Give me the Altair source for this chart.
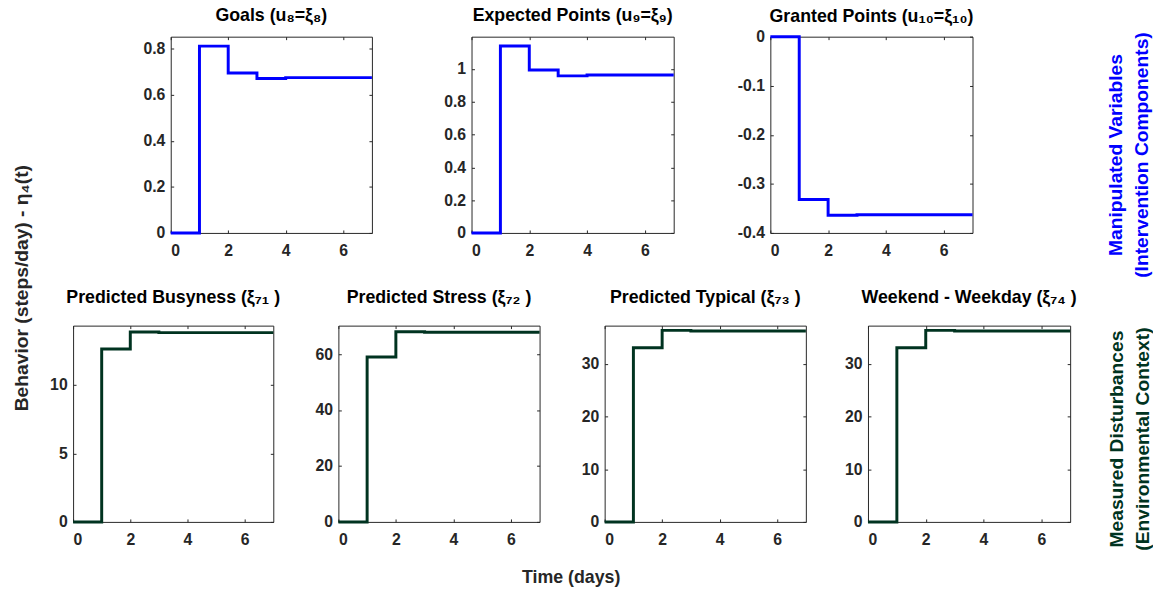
import altair as alt
import pandas as pd

FONT = "Liberation Sans, Arial, Helvetica, sans-serif"
BLUE = "#0000ff"
GREEN = "#003320"
AX = "#262626"

days = [0, 1, 2, 3, 4, 5, 6, 7]
x_ticks = [0, 2, 4, 6]

goals = [0, 0.812, 0.695, 0.671, 0.675, 0.675, 0.675, 0.675]
expected = [0, 1.140, 0.994, 0.958, 0.963, 0.963, 0.963, 0.963]
granted = [0, -0.332, -0.364, -0.363, -0.363, -0.363, -0.363, -0.363]
busyness = [0, 12.63, 13.88, 13.83, 13.83, 13.83, 13.83, 13.83]
stress = [0, 59.0, 68.0, 67.8, 67.8, 67.8, 67.8, 67.8]
typical = [0, 33.1, 36.4, 36.3, 36.3, 36.3, 36.3, 36.3]
weekend = [0, 33.1, 36.4, 36.3, 36.3, 36.3, 36.3, 36.3]

top_titles = ["Goals (u₈=ξ₈)", "Expected Points (u₉=ξ₉)", "Granted Points (u₁₀=ξ₁₀)"]
bottom_titles = ["Predicted Busyness (ξ₇₁ )", "Predicted Stress (ξ₇₂ )",
                 "Predicted Typical (ξ₇₃ )", "Weekend - Weekday (ξ₇₄ )"]

goals_ticks = [0, 0.2, 0.4, 0.6, 0.8]
expected_ticks = [0, 0.2, 0.4, 0.6, 0.8, 1]
granted_ticks = [-0.4, -0.3, -0.2, -0.1, 0]
busyness_ticks = [0, 5, 10]
stress_ticks = [0, 20, 40, 60]
typical_ticks = [0, 10, 20, 30]
weekend_ticks = [0, 10, 20, 30]

TICK = 3
H = 199
NOSTROKE = alt.ViewConfig(stroke="transparent")


def panel(values, title, ydom, yticks, color, width, toff):
    df = pd.DataFrame({"t": days, "v": values})
    xs = alt.Scale(domain=[0, 7], nice=False, zero=False)
    ys = alt.Scale(domain=ydom, nice=False, zero=False)
    lab = "toString(datum.value)"
    main = alt.Chart(df).mark_line(interpolate="step-after", color=color, strokeWidth=3).encode(
        x=alt.X("t:Q", scale=xs, axis=alt.Axis(orient="bottom", values=x_ticks, offset=-TICK,
                                              tickSize=TICK, domain=False, grid=False, title=None,
                                              labelPadding=10, labelExpr=lab)),
        y=alt.Y("v:Q", scale=ys, axis=alt.Axis(orient="left", values=yticks, offset=-TICK,
                                              tickSize=TICK, domain=False, grid=False, title=None,
                                              labelPadding=6, labelExpr=lab)),
    )
    mirror = alt.Chart(df).mark_line(opacity=0).encode(
        x=alt.X("t:Q", scale=xs, axis=alt.Axis(orient="top", values=x_ticks, offset=-TICK,
                                              tickSize=TICK, domain=False, grid=False, title=None,
                                              labels=False)),
        y=alt.Y("v:Q", scale=ys, axis=alt.Axis(orient="right", values=yticks, offset=-TICK,
                                              tickSize=TICK, domain=False, grid=False, title=None,
                                              labels=False)),
    )
    return alt.layer(main, mirror).properties(
        width=width, height=H,
        title=alt.TitleParams(text=title, font=FONT, fontSize=18, fontWeight="bold",
                              color="black", offset=toff, anchor="middle"))


def label(lines, color, x, y, size=19.5, angle=270):
    return alt.Chart(pd.DataFrame({"k": [0]})).mark_text(
        text=lines, angle=angle, font=FONT, fontSize=size, fontWeight="bold", color=color,
        lineHeight=26, align="center", baseline="middle",
    ).encode(x=alt.value(x), y=alt.value(y))


def spacer(width, texts=None):
    if texts:
        return alt.layer(*texts).properties(width=width, height=H, view=NOSTROKE)
    return alt.Chart(pd.DataFrame({"k": [0]})).mark_point(opacity=0).properties(
        width=width, height=H, view=NOSTROKE)


# annotation labels (positions relative to the spacer views that hold them)
left_label = label(["Behavior (steps/day) - η₄(t)"], AX, -52, 255)
blue_label = label(["Manipulated Variables", "(Intervention Components)"], BLUE, 146, 120)
green_label = label(["Measured Disturbances", "(Environmental Context)"], GREEN, 147, 408)
time_label = label(["Time (days)"], AX, 302, 256, size=18, angle=0)

top = alt.hconcat(
    spacer(99, [left_label]),
    panel(goals, top_titles[0], [0, 0.853], goals_ticks, BLUE, 204, 11),
    spacer(101),
    panel(expected, top_titles[1], [0, 1.197], expected_ticks, BLUE, 205, 11),
    spacer(98),
    panel(granted, top_titles[2], [-0.4, 0], granted_ticks, BLUE, 205, 3),
    spacer(1, [blue_label, green_label]),
    spacing=0, bounds="flush",
)

bottom = alt.hconcat(
    panel(busyness, bottom_titles[0], [0, 14.34], busyness_ticks, GREEN, 203, 18),
    spacer(66, [time_label]),
    panel(stress, bottom_titles[1], [0, 70.2], stress_ticks, GREEN, 204, 18),
    spacer(66),
    panel(typical, bottom_titles[2], [0, 37.3], typical_ticks, GREEN, 204, 18),
    spacer(63),
    panel(weekend, bottom_titles[3], [0, 37.3], weekend_ticks, GREEN, 205, 18),
    spacing=0, bounds="flush",
)

chart = alt.vconcat(top, bottom, spacing=H + 94, bounds="flush").properties(
    padding={"left": 3, "top": -5, "right": 0, "bottom": 0},
    background="white",
).configure_view(stroke=AX, strokeWidth=1).configure_axis(
    labelFont=FONT, labelFontSize=16, labelFontWeight="bold", labelColor=AX,
    tickColor=AX, tickWidth=1,
)

chart.save("out.html", embed_options={"renderer": "svg", "actions": False})
